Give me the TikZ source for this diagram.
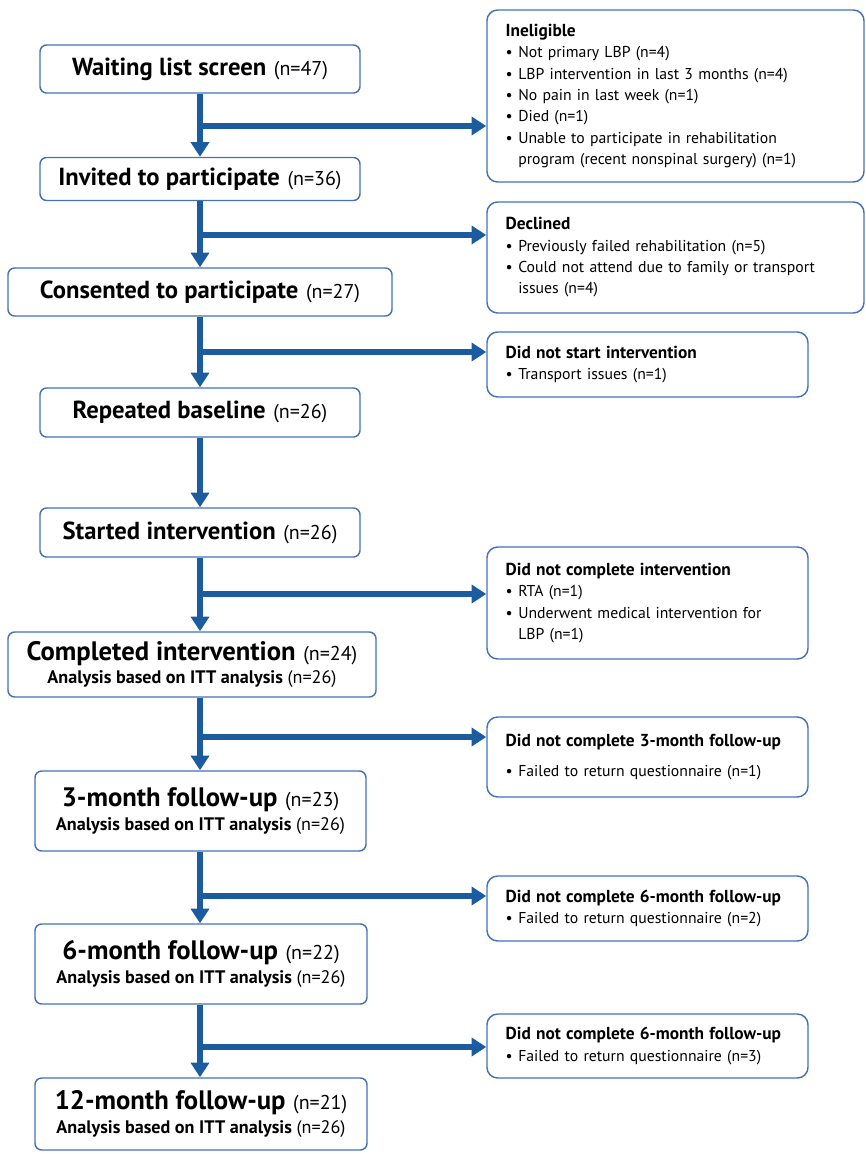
\documentclass[tikz,border=0pt]{standalone}
\usepackage{fontspec}
\setmainfont{PT Sans}
\usepackage{tikz}
\usetikzlibrary{arrows.meta}
\tikzset{stage box/.style={draw=frame_blue, line width=1.1pt, rounded corners=5pt, fill=white, align=center, inner sep=0pt}}
\tikzset{side box/.style={draw=frame_blue, line width=1.1pt, rounded corners=8pt, fill=white, align=left, inner xsep=14pt, inner ysep=0pt, font=\fontsize{11.8}{16}\selectfont}}
\tikzset{flow arrow/.style={flow_blue, line width=3.8pt, -{Triangle[width=13.5pt,length=11pt]}}}
\definecolor{flow_blue}{HTML}{1B5BA0}
\definecolor{frame_blue}{HTML}{4472B8}
\newcommand{\stagetxt}[1]{{\fontsize{18.5}{22}\selectfont\bfseries #1}}
\newcommand{\bigstagetxt}[1]{{\fontsize{20}{23}\selectfont\bfseries #1}}
\newcommand{\nval}[1]{{\fontsize{15}{18}\selectfont\hspace{3pt}(n=#1)}}
\newcommand{\itttxt}{{\fontsize{13.6}{17}\selectfont\bfseries Analysis based on ITT analysis \mdseries(n=26)}}
\newcommand{\sidetitle}[1]{{\fontsize{13}{16}\selectfont\bfseries #1}}
\newcommand{\bul}{\makebox[0.8em][l]{\textbullet}}
\newcommand{\cont}{\hspace*{0.8em}}

\begin{document}
\begin{tikzpicture}[x=0.75pt, y=-0.75pt]
\useasboundingbox (0,0) rectangle (865,1154);

% Draw the stages down the left side
\node[stage box, minimum width=240pt, minimum height=36pt] (wait) at (200,69) {\stagetxt{Waiting list screen} \nval{47}};
\node[stage box, minimum width=240pt, minimum height=32.25pt] (invite) at (200,179) {\stagetxt{Invited to participate} \nval{36}};
\node[stage box, minimum width=288pt, minimum height=36pt] (consent) at (200,292) {\stagetxt{Consented to participate} \nval{27}};
\node[stage box, minimum width=240pt, minimum height=36.75pt] (repeat) at (200,412.5) {\stagetxt{Repeated baseline} \nval{26}};
\node[stage box, minimum width=240pt, minimum height=36.75pt] (start) at (200,532.5) {\stagetxt{Started intervention} \nval{26}};
\node[stage box, minimum width=276pt, minimum height=48.75pt] (complete) at (192,664.5) {\bigstagetxt{Completed intervention} \nval{24}\\[3pt] \itttxt};
\node[stage box, minimum width=248.25pt, minimum height=60pt] (three) at (200.5,811) {\bigstagetxt{3-month follow-up} \nval{23}\\[4pt] \itttxt};
\node[stage box, minimum width=249pt, minimum height=60pt] (six) at (201,964) {\bigstagetxt{6-month follow-up} \nval{22}\\[4pt] \itttxt};
\node[stage box, minimum width=249pt, minimum height=54pt] (twelve) at (201,1114) {\bigstagetxt{12-month follow-up} \nval{21}\\[4pt] \itttxt};

% Draw the exclusion boxes on the right
\node[side box, minimum width=282.75pt, minimum height=129pt, text width=254.75pt] (inel) at (675.5,96) {\sidetitle{Ineligible}\\
\bul Not primary LBP (n=4)\\
\bul LBP intervention in last 3 months (n=4)\\
\bul No pain in last week (n=1)\\
\bul Died (n=1)\\
\bul Unable to participate in rehabilitation\\
\cont program (recent nonspinal surgery) (n=1)};
\node[side box, minimum width=282.75pt, minimum height=83.25pt, text width=254.75pt] (decl) at (675.5,257.5) {\sidetitle{Declined}\\
\bul Previously failed rehabilitation (n=5)\\
\bul Could not attend due to family or transport\\
\cont issues (n=4)};
\node[side box, minimum width=240.75pt, minimum height=48.75pt, text width=212.75pt] (nostart) at (647.5,364.5) {\sidetitle{Did not start intervention}\\
\bul Transport issues (n=1)};
\node[side box, minimum width=240.75pt, minimum height=84pt, text width=212.75pt] (nocomp) at (647.5,603) {\sidetitle{Did not complete intervention}\\
\bul RTA (n=1)\\
\bul Underwent medical intervention for\\
\cont LBP (n=1)};
\node[side box, minimum width=240.75pt, minimum height=60pt, text width=212.75pt] (nothree) at (647.5,757) {\sidetitle{Did not complete 3-month follow-up}\\[7pt]
\bul Failed to return questionnaire (n=1)};
\node[side box, minimum width=240.75pt, minimum height=48.75pt, text width=212.75pt] (nosix) at (647.5,908.5) {\sidetitle{Did not complete 6-month follow-up}\\
\bul Failed to return questionnaire (n=2)};
\node[side box, minimum width=240.75pt, minimum height=48pt, text width=212.75pt] (notwelve) at (647.5,1046) {\sidetitle{Did not complete 6-month follow-up}\\
\bul Failed to return questionnaire (n=3)};

% Draw the main arrows down the spine
\draw[flow arrow] (wait.south) -- (invite.north);
\draw[flow arrow] (invite.south) -- (consent.north);
\draw[flow arrow] (consent.south) -- (repeat.north);
\draw[flow arrow] (repeat.south) -- (start.north);
\draw[flow arrow] (start.south) -- (complete.north -| start.south);
\draw[flow arrow] (complete.south -| start.south) -- (three.north -| start.south);
\draw[flow arrow] (three.south -| start.south) -- (six.north -| start.south);
\draw[flow arrow] (six.south -| start.south) -- (twelve.north -| start.south);

% Draw the side arrows out to the exclusion boxes
\coordinate (out1) at (200,126);
\coordinate (out2) at (200,235);
\coordinate (out3) at (200,352);
\coordinate (out4) at (200,594);
\coordinate (out5) at (200,737);
\coordinate (out6) at (200,896);
\coordinate (out7) at (200,1047);
\draw[flow arrow] (out1) -- (out1 -| inel.west);
\draw[flow arrow] (out2) -- (out2 -| decl.west);
\draw[flow arrow] (out3) -- (out3 -| nostart.west);
\draw[flow arrow] (out4) -- (out4 -| nocomp.west);
\draw[flow arrow] (out5) -- (out5 -| nothree.west);
\draw[flow arrow] (out6) -- (out6 -| nosix.west);
\draw[flow arrow] (out7) -- (out7 -| notwelve.west);

\end{tikzpicture}
\end{document}
